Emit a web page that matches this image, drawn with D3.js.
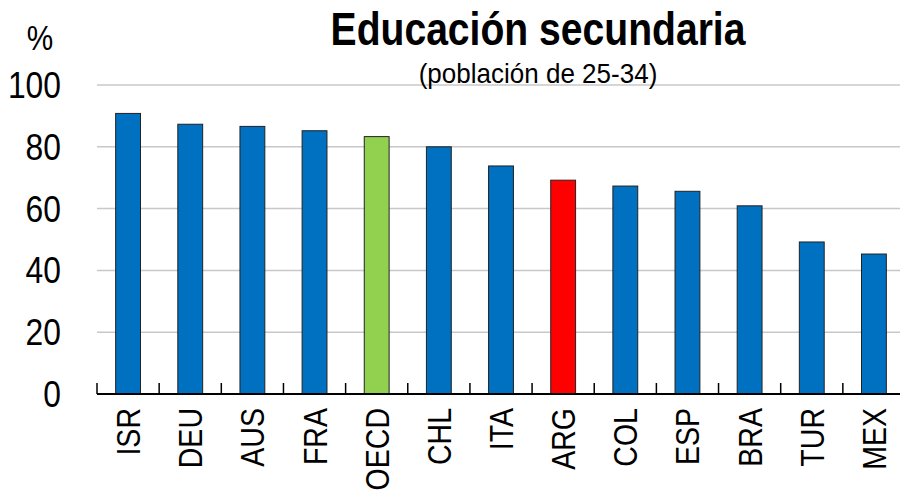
<!DOCTYPE html>
<html>
<head>
<meta charset="utf-8">
<script src="https://cdn.jsdelivr.net/npm/d3@7"></script>
<style>
  body { margin: 0; background: #fff; }
  svg { display: block; font-family: "Liberation Sans", Arial, sans-serif; }
</style>
</head>
<body>
<div id="chart"></div>
<script>
// Data
const countries = ["ISR", "DEU", "AUS", "FRA", "OECD", "CHL", "ITA", "ARG", "COL", "ESP", "BRA", "TUR", "MEX"];
const values = [90.8, 87.3, 86.6, 85.2, 83.3, 80.0, 73.8, 69.2, 67.3, 65.6, 60.9, 49.2, 45.3];
const yTicks = [0, 20, 40, 60, 80, 100];
const highlight = { "OECD": "#92D050", "ARG": "#FF0000" };

const width = 900, height = 497;

const svg = d3.select("#chart")
    .append("svg")
    .attr("width", width)
    .attr("height", height);

// Scales
const x = d3.scaleBand()
    .domain(countries)
    .range([97, 905])
    .paddingInner(0)
    .paddingOuter(0);

const y = d3.scaleLinear()
    .domain([0, 100])
    .range([394, 85]);

// Gridlines
svg.append("g")
    .selectAll("line")
    .data(yTicks.filter(d => d > 0))
    .enter().append("line")
    .attr("x1", 97)
    .attr("x2", width)
    .attr("y1", d => y(d))
    .attr("y2", d => y(d))
    .attr("stroke", "#c8c8c8")
    .attr("stroke-width", 1.5);

// Y tick labels (narrow look)
svg.append("g")
    .selectAll("text")
    .data(yTicks)
    .enter().append("text")
    .attr("transform", d => `translate(61,${y(d) + 13}) scale(0.86,1)`)
    .attr("text-anchor", "end")
    .attr("font-size", 37)
    .attr("fill", "#000")
    .text(d => d);

// "%" label
svg.append("text")
    .attr("transform", "translate(40,50) scale(0.85,1)")
    .attr("text-anchor", "middle")
    .attr("font-size", 35)
    .text("%");

// Bars
const barW = x.bandwidth() * 0.4;
svg.append("g")
    .selectAll("rect")
    .data(countries)
    .enter().append("rect")
    .attr("x", d => x(d) + (x.bandwidth() - barW) / 2)
    .attr("y", (d, i) => y(values[i]))
    .attr("width", barW)
    .attr("height", (d, i) => y(0) - y(values[i]))
    .attr("fill", d => highlight[d] || "#0070C0")
    .attr("stroke", "#222")
    .attr("stroke-width", 1);

// X axis line and ticks
svg.append("line")
    .attr("x1", 97)
    .attr("x2", width)
    .attr("y1", y(0))
    .attr("y2", y(0))
    .attr("stroke", "#000")
    .attr("stroke-width", 2);

svg.append("g")
    .selectAll("line")
    .data(countries)
    .enter().append("line")
    .attr("x1", d => x(d))
    .attr("x2", d => x(d))
    .attr("y1", y(0))
    .attr("y2", y(0) - 11)
    .attr("stroke", "#000")
    .attr("stroke-width", 1.5);

// Category labels, rotated
svg.append("g")
    .selectAll("text")
    .data(countries)
    .enter().append("text")
    .attr("transform", d => `translate(${x(d) + x.bandwidth() / 2 + 12},${y(0) + 14}) rotate(-90) scale(0.84,1)`)
    .attr("text-anchor", "end")
    .attr("font-size", 34)
    .attr("fill", "#000")
    .text(d => d);

// Title and subtitle
svg.append("text")
    .attr("transform", "translate(538,45) scale(0.85,1)")
    .attr("text-anchor", "middle")
    .attr("font-size", 46)
    .attr("font-weight", "bold")
    .text("Educación secundaria");

svg.append("text")
    .attr("transform", "translate(538,83) scale(0.93,1)")
    .attr("text-anchor", "middle")
    .attr("font-size", 28)
    .text("(población de 25-34)");
</script>
</body>
</html>
